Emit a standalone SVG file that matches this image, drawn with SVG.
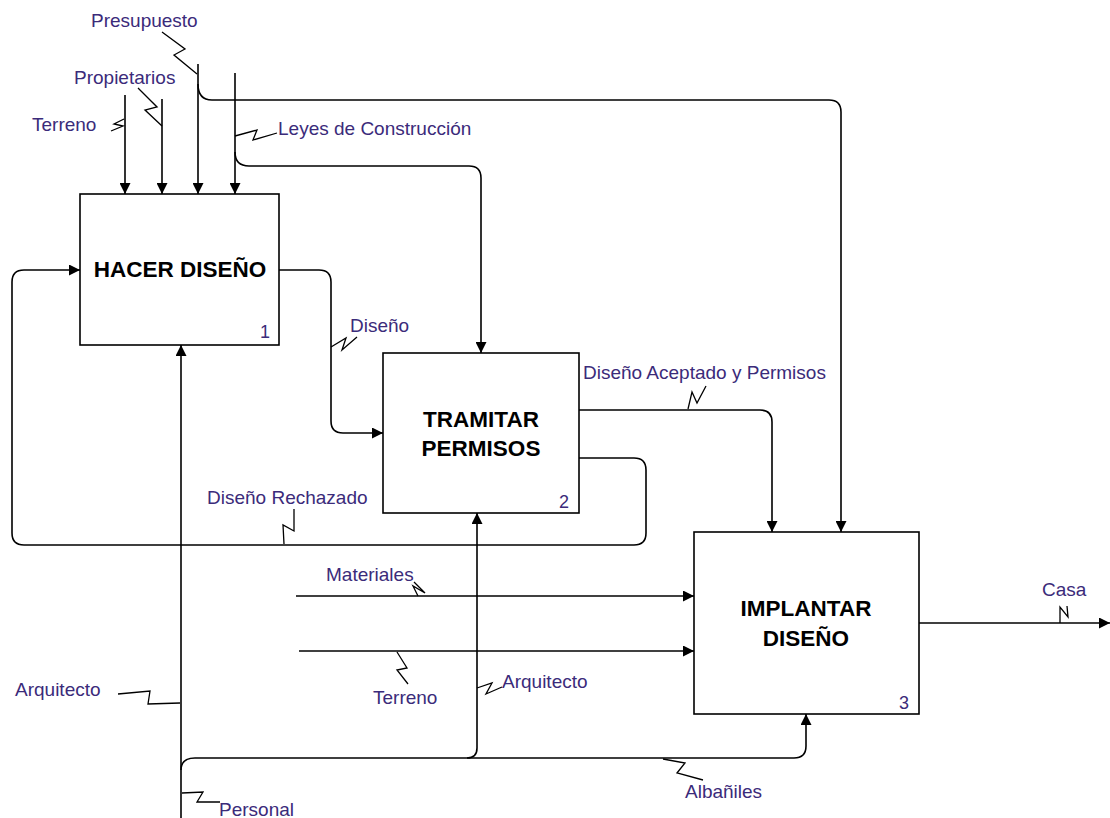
<svg xmlns="http://www.w3.org/2000/svg" width="1110" height="818" viewBox="0 0 1110 818">
<style>
.box{fill:#fff;stroke:#000;stroke-width:1.6}
.title{font-family:"Liberation Sans",Arial,sans-serif;font-weight:bold;font-size:22.5px;fill:#000;text-anchor:middle}
.num{font-family:"Liberation Sans",Arial,sans-serif;font-size:18px;fill:#3b2b7a;text-anchor:end}
.lbl{font-family:"Liberation Sans",Arial,sans-serif;font-size:19px;fill:#3b2b7a}
.c{fill:none;stroke:#000;stroke-width:1.6}
.sq{fill:none;stroke:#000;stroke-width:1.3}
</style>
<defs>
<marker id="ah" markerUnits="userSpaceOnUse" markerWidth="11" markerHeight="11" refX="11" refY="5.5" orient="auto">
<path d="M0,0 L11,5.5 L0,11 z" fill="#000"/>
</marker>
</defs>
<rect width="1110" height="818" fill="#fff"/>
<g id="connectors">
<path class="c" d="M125,95 L125,194" marker-end="url(#ah)"/>
<path class="c" d="M162,99 L162,194" marker-end="url(#ah)"/>
<path class="c" d="M198,64 L198,194" marker-end="url(#ah)"/>
<path class="c" d="M235,73 L235,194" marker-end="url(#ah)"/>
<path class="c" d="M198,84 Q198,100 212,100 L829,100 Q841,100 841,112 L841,532" marker-end="url(#ah)"/>
<path class="c" d="M235,152 Q235,166 249,166 L469,166 Q481,166 481,178 L481,353" marker-end="url(#ah)"/>
<path class="c" d="M279,270 L319,270 Q331,270 331,282 L331,421 Q331,433 343,433 L383,433" marker-end="url(#ah)"/>
<path class="c" d="M579,458 L634,458 Q646,458 646,470 L646,533 Q646,545 634,545 L24,545 Q12,545 12,533 L12,282 Q12,270 24,270 L80,270" marker-end="url(#ah)"/>
<path class="c" d="M579,410 L760,410 Q772,410 772,422 L772,532" marker-end="url(#ah)"/>
<path class="c" d="M296,596 L694,596" marker-end="url(#ah)"/>
<path class="c" d="M299,651 L694,651" marker-end="url(#ah)"/>
<path class="c" d="M181,818 L181,345" marker-end="url(#ah)"/>
<path class="c" d="M181,770 Q181,758 195,758 L794,758 Q806,758 806,746 L806,714" marker-end="url(#ah)"/>
<path class="c" d="M467,758 Q477,758 477,748 L477,513" marker-end="url(#ah)"/>
<path class="c" d="M919,623 L1110,623" marker-end="url(#ah)"/>
<polyline class="sq" points="162,32 185,49 174,55 197,74"/>
<polyline class="sq" points="138,88 157,107 145,110 162,126"/>
<polyline class="sq" points="111,131 123,126 114,124 124,119"/>
<polyline class="sq" points="235,136 257,130 253,140 277,133"/>
<polyline class="sq" points="331,347 346,338 342,350 357,337"/>
<polyline class="sq" points="688,409 692,392 697,403 706,386"/>
<polyline class="sq" points="284,544 283,525 294,531 294,509"/>
<polyline class="sq" points="418,596 413,586 425,593 414,582"/>
<polyline class="sq" points="397,652 407,668 397,670 408,684"/>
<polyline class="sq" points="118,694 150,691 148,704 180,703"/>
<polyline class="sq" points="182,793 203,792 197,802 220,802"/>
<polyline class="sq" points="477,688 492,683 486,694 502,687"/>
<polyline class="sq" points="663,759 685,763 677,773 703,780"/>
<polyline class="sq" points="1060,623 1060,607 1068,617 1067,606"/>
</g>
<g id="node1">
<rect class="box" x="80" y="194" width="199" height="151"/>
<text class="title" x="180" y="277">HACER DISEÑO</text>
<text class="num" x="270" y="338">1</text>
</g>
<g id="node2">
<rect class="box" x="383" y="353" width="196" height="160"/>
<text class="title" x="481" y="427">TRAMITAR</text>
<text class="title" x="481" y="456">PERMISOS</text>
<text class="num" x="569" y="508">2</text>
</g>
<g id="node3">
<rect class="box" x="694" y="532" width="225" height="182"/>
<text class="title" x="806" y="616">IMPLANTAR</text>
<text class="title" x="806" y="646">DISEÑO</text>
<text class="num" x="909" y="709">3</text>
</g>
<g id="labels">
<text class="lbl" x="91" y="27">Presupuesto</text>
<text class="lbl" x="74" y="84">Propietarios</text>
<text class="lbl" x="32" y="131">Terreno</text>
<text class="lbl" x="278" y="135">Leyes de Construcción</text>
<text class="lbl" x="350" y="332">Diseño</text>
<text class="lbl" x="583" y="379">Diseño Aceptado y Permisos</text>
<text class="lbl" x="207" y="504">Diseño Rechazado</text>
<text class="lbl" x="326" y="581">Materiales</text>
<text class="lbl" x="373" y="704">Terreno</text>
<text class="lbl" x="502" y="688">Arquitecto</text>
<text class="lbl" x="15" y="696">Arquitecto</text>
<text class="lbl" x="219" y="816">Personal</text>
<text class="lbl" x="685" y="798">Albañiles</text>
<text class="lbl" x="1042" y="596">Casa</text>
</g>
</svg>
